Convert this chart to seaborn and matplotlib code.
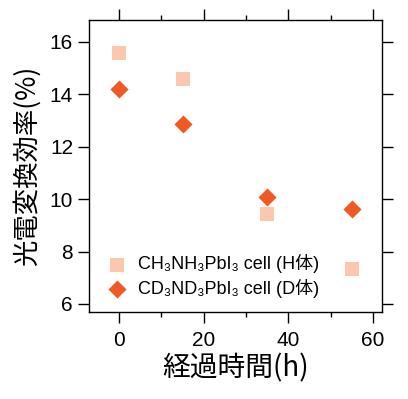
import matplotlib
matplotlib.use("Agg")
import matplotlib.pyplot as plt
import seaborn as sns
import pandas as pd
from matplotlib.ticker import MultipleLocator

# Data
hours = [0, 15, 35, 55]
eff_h = [15.57, 14.6, 9.45, 7.32]
eff_d = [14.19, 12.87, 10.07, 9.63]
label_h = "CH₃NH₃PbI₃ cell (H体)"
label_d = "CD₃ND₃PbI₃ cell (D体)"
x_ticks = [0, 20, 40, 60]
y_ticks = [6, 8, 10, 12, 14, 16]

df = pd.DataFrame({
    "time": hours + hours,
    "eff": eff_h + eff_d,
    "cell": [label_h] * len(hours) + [label_d] * len(hours),
})

sns.set_style("ticks")
plt.rcParams['font.family'] = ['Liberation Sans', 'Noto Sans CJK JP', 'DejaVu Sans']
for k in ["text.color", "axes.labelcolor", "xtick.color", "ytick.color",
          "axes.edgecolor"]:
    plt.rcParams[k] = "black"

fig = plt.figure(figsize=(4.08, 3.99), dpi=100)
ax = fig.add_axes([89/408, 1 - 312/399, 293/408, 292/399])

palette = {label_h: "#F9C8AE", label_d: "#EF5A24"}
markers = {label_h: "s", label_d: "D"}
sizes = {label_h: 105, label_d: 85}
for lab in [label_h, label_d]:
    sub = df[df["cell"] == lab]
    sns.scatterplot(data=sub, x="time", y="eff", ax=ax, color=palette[lab],
                    marker=markers[lab], s=sizes[lab], linewidth=0, label=lab,
                    zorder=3)

ax.set_xlim(-7.1, 62.1)
ax.set_ylim(5.69, 16.84)
ax.set_xticks(x_ticks)
ax.set_yticks(y_ticks)
ax.xaxis.set_minor_locator(MultipleLocator(10))

for s in ax.spines.values():
    s.set_linewidth(1.0)
    s.set_color("black")
ax.tick_params(axis="both", which="major", direction="out", length=8, width=1.0,
               labelsize=15, top=True, right=True, color="black",
               labelcolor="black")
ax.tick_params(axis="x", which="minor", direction="out", length=3.6, width=1.0,
               top=True, bottom=True, color="black")
ax.tick_params(axis="x", which="major", pad=6)
ax.tick_params(axis="y", which="major", pad=3.5)

ax.set_xlabel("経過時間(h)", fontsize=20, family=['Noto Sans CJK JP'], labelpad=2,
              color="black")
ax.set_ylabel("光電変換効率(%)", fontsize=19, family=['Noto Sans CJK JP'], labelpad=6,
              color="black")

leg = ax.legend(loc="lower left", bbox_to_anchor=(-0.01, 0.005), frameon=False,
                fontsize=13, handletextpad=0.2, labelspacing=0.3,
                borderpad=0.2)
for t in leg.get_texts():
    t.set_color("black")

fig.savefig("out.png", dpi=100)
